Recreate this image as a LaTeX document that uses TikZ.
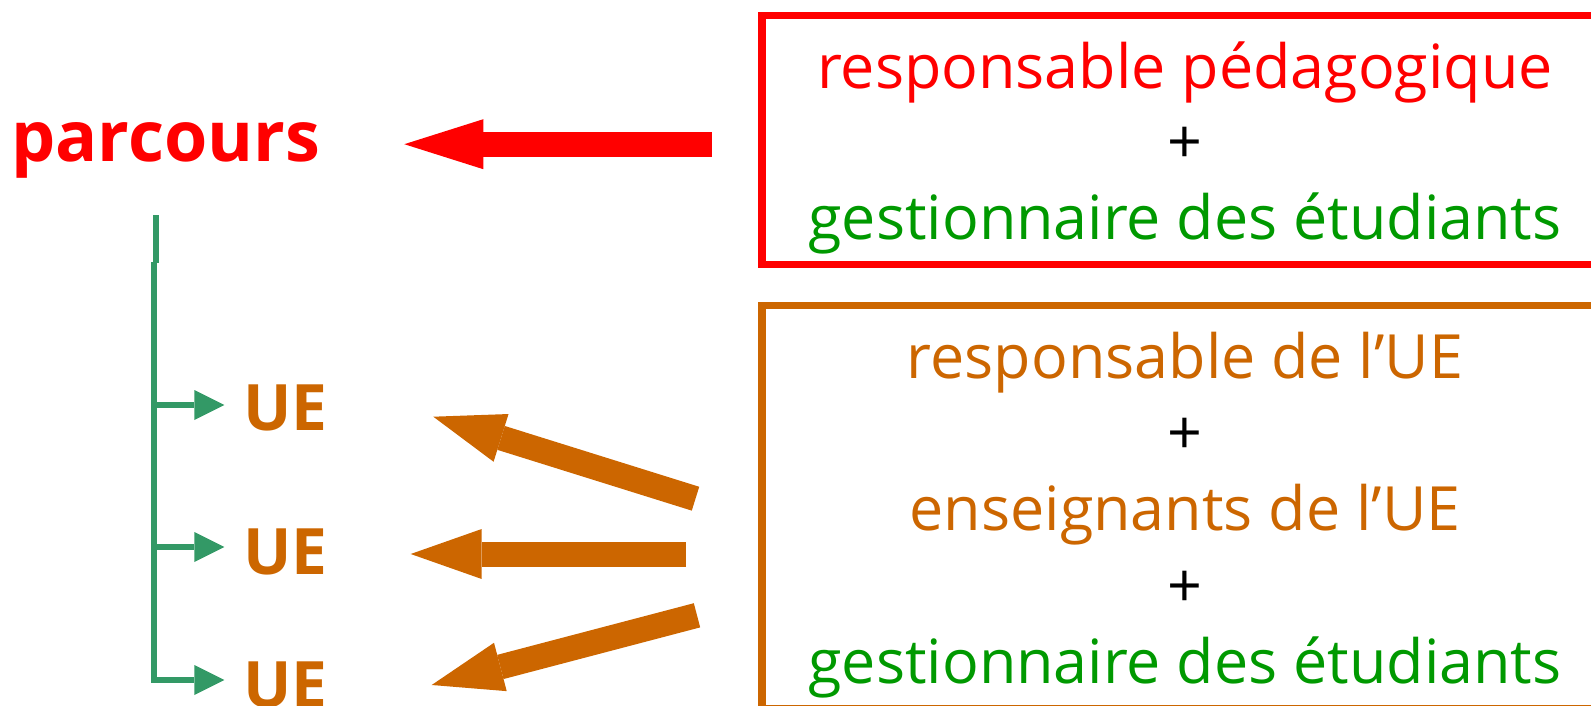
\documentclass[tikz,border=0pt]{standalone}
\usepackage{fontspec}
\setmainfont{Open Sans}
\usetikzlibrary{arrows.meta}
\definecolor{pred}{RGB}{255,0,0}
\definecolor{pgreen}{RGB}{0,153,0}
\definecolor{porange}{RGB}{204,102,0}
\definecolor{tgreen}{RGB}{51,153,102}
\begin{document}
\begin{tikzpicture}[x=1pt,y=-1pt,
  lbl/.style={anchor=base, inner sep=0pt, font=\fontsize{61}{61}\selectfont},
  big/.style={anchor=base west, inner sep=0pt, font=\fontsize{64}{64}\selectfont\bfseries},
  frame/.style={draw, line width=7.7pt, anchor=north west, inner sep=0pt, outer sep=0pt, minimum width=900pt},
  blk/.style={line width=25pt, -{Triangle[length=#1, width=50pt, line width=0pt]}},
  tree/.style={draw=tgreen, line width=6pt},
  twig/.style={tree, -{Triangle[length=30pt, width=30pt, line width=0pt]}}
]
\useasboundingbox (0,0) rectangle (1591,706);

% frames
\node[frame, draw=pred, minimum height=249pt] (box1) at (762,15.5) {};
\node[frame, draw=porange, minimum height=403.5pt] (box2) at (762,305.5) {};

% box texts
\node[lbl, text=pred] (t11) at (1185,88.3) {responsable pédagogique};
\node[lbl] (p11) at (1185,163.8) {+};
\node[lbl, text=pgreen] (t12) at (1185,239.3) {gestionnaire des étudiants};
\node[lbl, text=porange] (t21) at (1185,378.3) {responsable de l’UE};
\node[lbl] (p21) at (1185,454.5) {+};
\node[lbl, text=porange] (t22) at (1185,530.7) {enseignants de l’UE};
\node[lbl] (p22) at (1185,607) {+};
\node[lbl, text=pgreen] (t23) at (1185,683.3) {gestionnaire des étudiants};

% left labels
\node[big, text=pred, font=\fontsize{70}{70}\selectfont\bfseries] (pc) at (11,161.7) {parcours};
\node[big, text=porange] (ue1) at (243,430) {UE};
\node[big, text=porange] (ue2) at (243,574) {UE};
\node[big, text=porange] (ue3) at (243,707) {UE};

% tree
\coordinate (v0) at (155.5,215);
\coordinate (v1) at (155.5,263);
\coordinate (w0) at (154,262);
\coordinate (w1) at (154,405);
\coordinate (w2) at (154,547);
\coordinate (w3) at (154,680);
\coordinate (a1) at (224.3,405);
\coordinate (a2) at (224.3,547);
\coordinate (a3) at (224.3,680);
\draw[tree] (v0) -- (v1);
\draw[twig] (w0) -- (w3) -- (a3);
\draw[twig] (w1) -- (a1);
\draw[twig] (w2) -- (a2);

% block arrows
\coordinate (r0) at (711.7,144.2);
\coordinate (r1) at (404.3,144.2);
\draw[blk=79pt, pred] (r0) -- (r1);
\coordinate (o10) at (695.5,498.7);
\coordinate (o11) at (433.3,416.7);
\coordinate (o20) at (686,554);
\coordinate (o21) at (410.7,554);
\coordinate (o30) at (697,615.3);
\coordinate (o31) at (431.7,685);
\draw[blk=71pt, porange] (o10) -- (o11);
\draw[blk=71pt, porange] (o20) -- (o21);
\draw[blk=71pt, porange] (o30) -- (o31);
\end{tikzpicture}
\end{document}
